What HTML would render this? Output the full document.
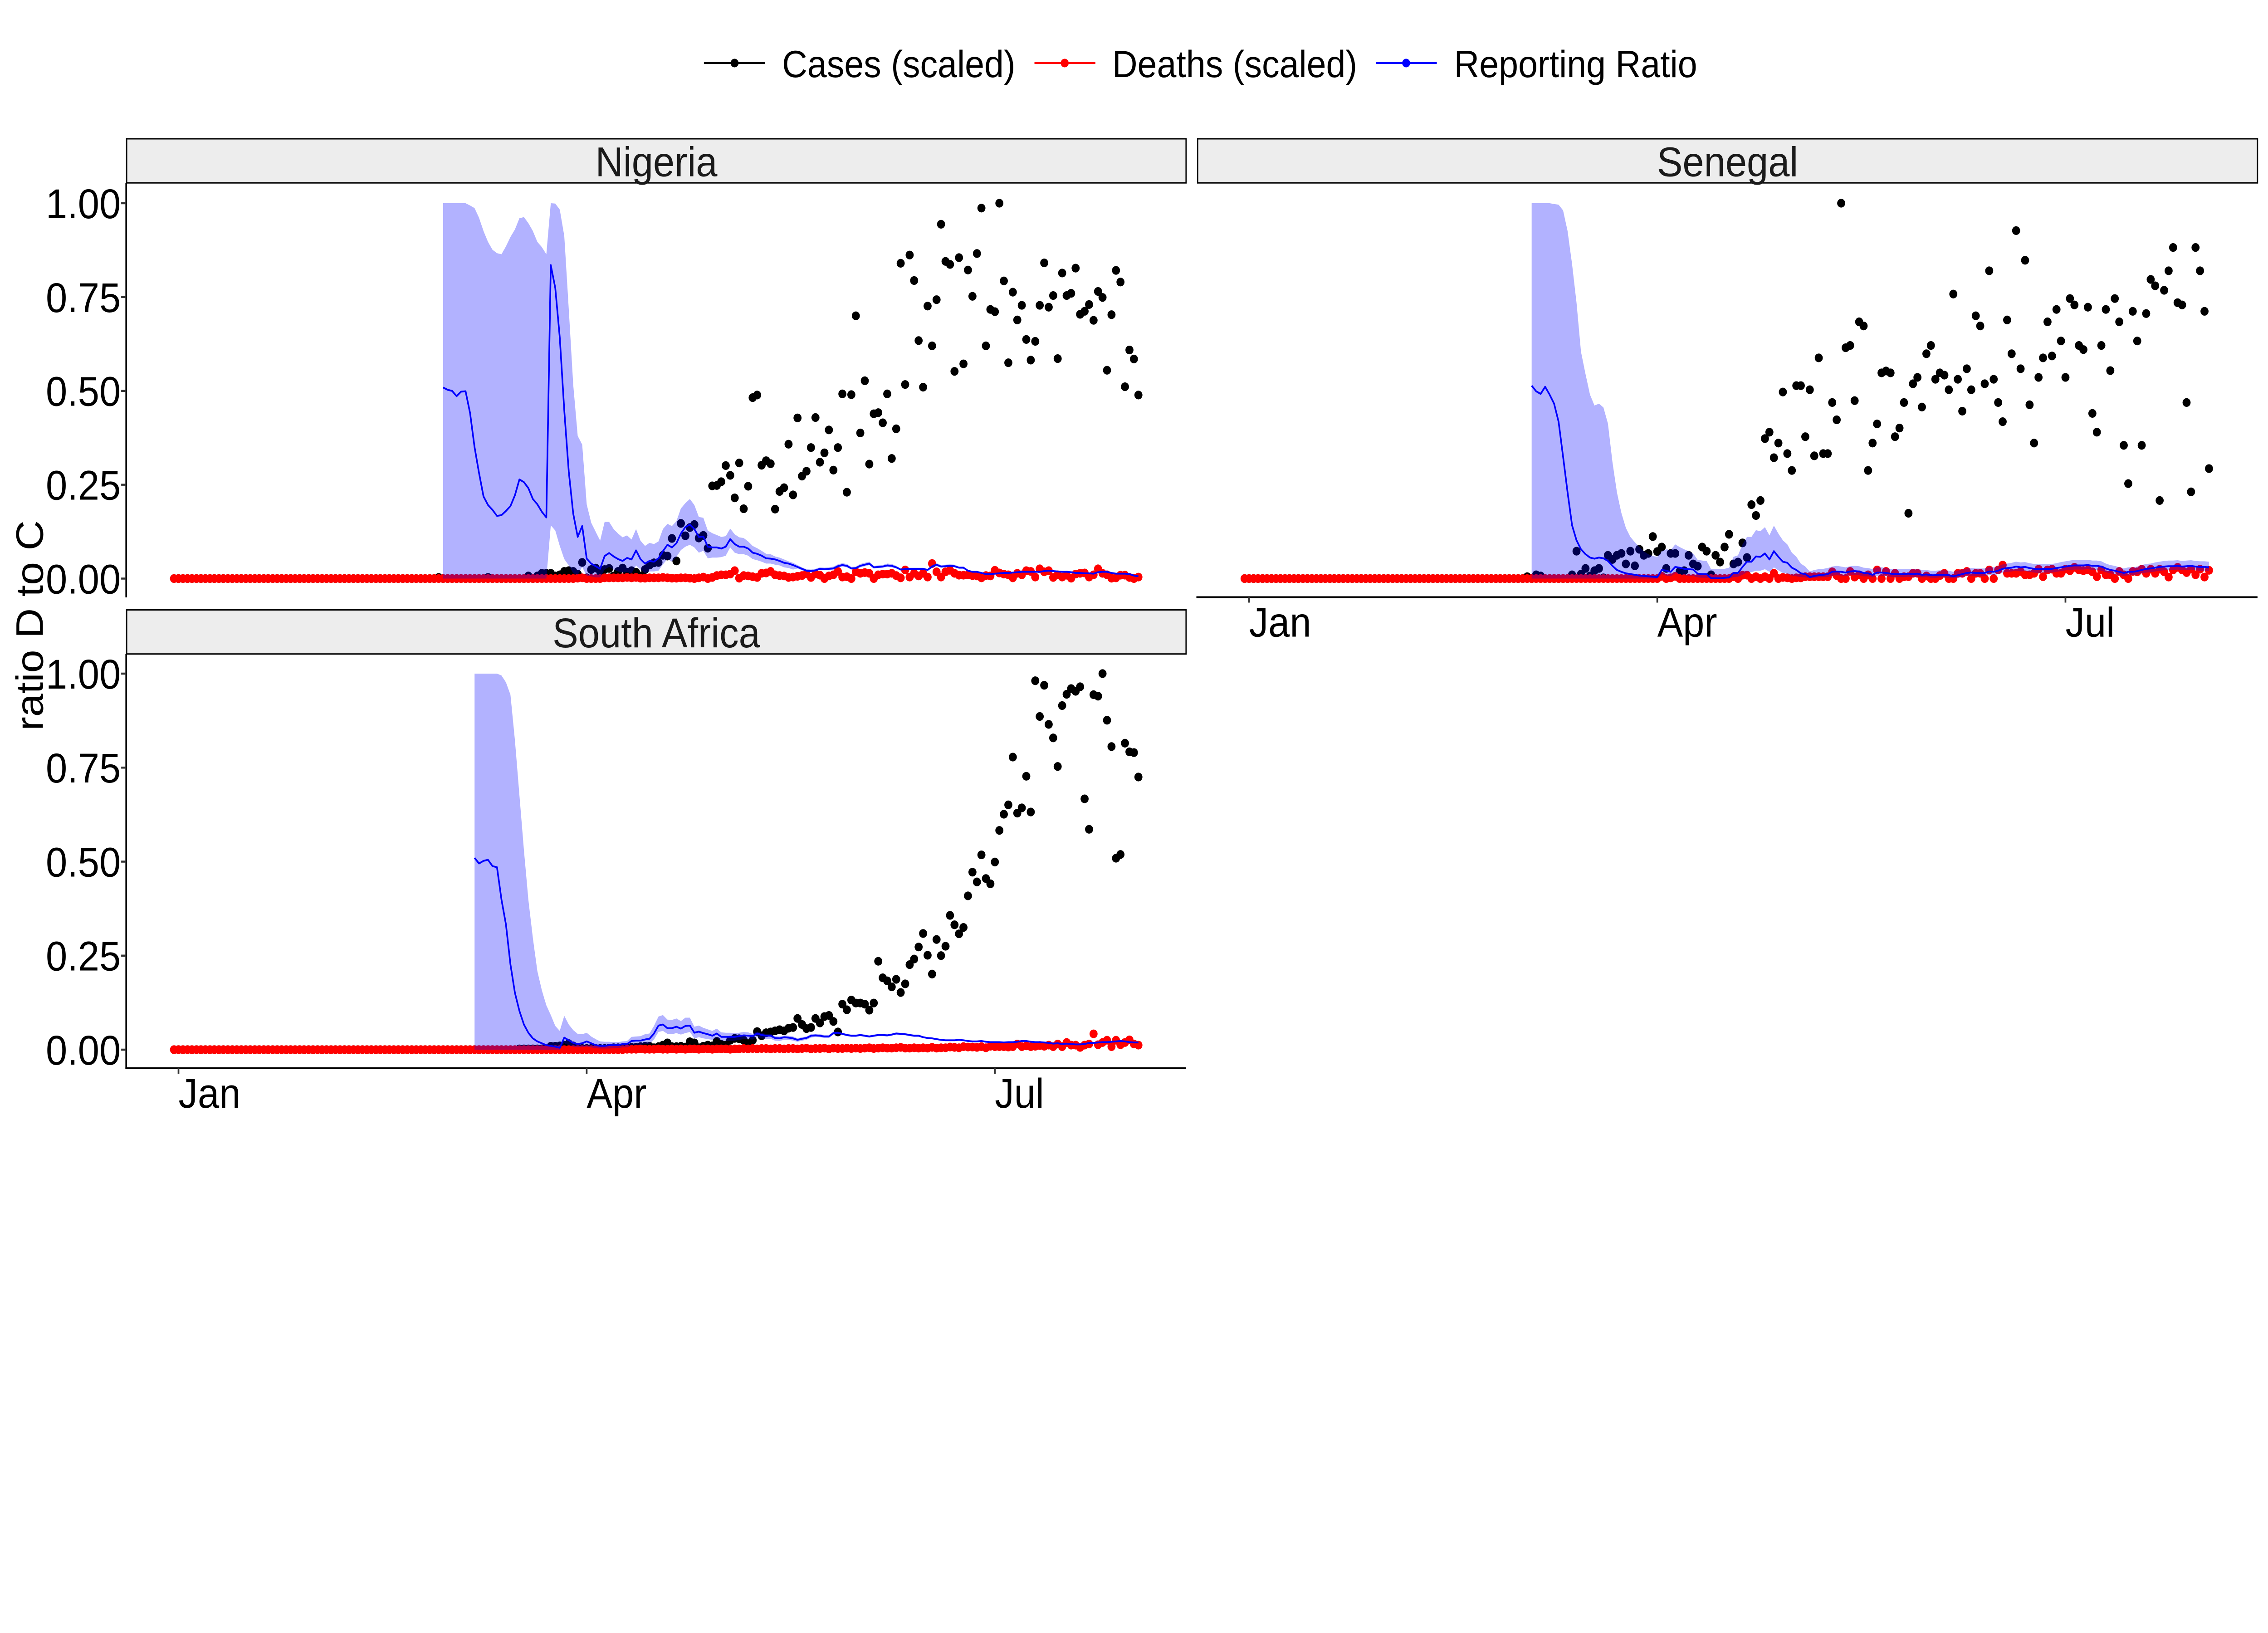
<!DOCTYPE html>
<html lang="en">
<head>
<meta charset="utf-8">
<title>Reporting ratio by country</title>
<style>
html,body{margin:0;padding:0;background:#fff;width:100%;height:100%;overflow:hidden;}
svg{display:block;width:100vw;height:100vh;}
text{font-family:"Liberation Sans",Arial,sans-serif;}
</style>
</head>
<body>
<svg id="chart" xmlns="http://www.w3.org/2000/svg" viewBox="0 0 5400 3600" preserveAspectRatio="none">
<rect x="0" y="0" width="5400" height="3600" fill="#fff"/>
<g>
  <g>
    <line x1="1676" y1="139" x2="1822" y2="139" stroke="#000" stroke-width="4.2"/>
    <circle cx="1749" cy="139" r="9.5" fill="#000"/>
    <text x="1862" y="170" font-size="83.33" fill="#000">Cases (scaled)</text>
  </g>
  <g>
    <line x1="2463" y1="139" x2="2608" y2="139" stroke="#f00" stroke-width="4.2"/>
    <circle cx="2535" cy="139" r="9.5" fill="#f00"/>
    <text x="2648" y="170" font-size="83.33" fill="#000">Deaths (scaled)</text>
  </g>
  <g>
    <line x1="3276" y1="139" x2="3421" y2="139" stroke="#00f" stroke-width="4.2"/>
    <circle cx="3348" cy="139" r="9.5" fill="#00f"/>
    <text x="3462" y="170" font-size="83.33" fill="#000">Reporting Ratio</text>
  </g>
</g>
<text x="0" y="0" transform="translate(102 1379) rotate(-90)" text-anchor="middle" font-size="91.67" fill="#000">ratio D to C</text>
</svg>
<script>
const yTicks = [0, 0.25, 0.5, 0.75, 1];
const yTickLabels = ['0.00', '0.25', '0.50', '0.75', '1.00'];
const xTickDays = [0, 91, 182];
const xTickLabels = ['Jan', 'Apr', 'Jul'];
const firstDay = -1;

const nigeriaCases = [
0,0,0,0,0,0,0,0,0,0,0,0,0,0,0,0,0,0,0,0,0,0,0,0,0,0,0,0,0,0,
0,0,0,0,0,0,0,0,0,0,0,0,0,0,0,0,0,0,0,0,0,0,0,0,0,0,0,0,0,
.003,0,0,0,0,0,0,0,0,0,0,.003,0,0,0,0,0,0,0,0,.007,0,.007,.014,.014,.014,.007,.01,.019,.021,.019,.012,.043,.002,.024,.028,.019,.024,.027,.007,.019,.028,.017,.021,.017,.007,.024,.036,.042,.043,.062,.06,
.107,.047,.147,.114,.136,.144,.108,.115,.081,.247,.248,.258,.301,.275,.215,.308,.186,.246,.482,.489,
.302,.314,.306,.185,.232,.242,.358,.223,.428,.273,.286,.349,.429,.31,.335,.396,.289,.349,.492,.23,
.49,.7,.388,.527,.305,.439,.442,.415,.492,.32,.399,.84,.517,.862,.794,.634,.51,.726,.62,.743,
.944,.845,.837,.552,.855,.572,.822,.752,.866,.987,.62,.717,.711,1,.793,.575,.763,.689,.728,.637,
.582,.632,.728,.841,.723,.754,.586,.814,.754,.76,.827,.704,.712,.73,.688,.765,.749,.555,.703,.821,
.79,.511,.609,.585,.489];
const nigeriaDeaths = [
0,0,0,0,0,0,0,0,0,0,0,0,0,0,0,0,0,0,0,0,0,0,0,0,0,0,0,0,0,0,
0,0,0,0,0,0,0,0,0,0,0,0,0,0,0,0,0,0,0,0,0,0,0,0,0,0,0,0,0,0,
0,0,0,0,0,0,0,0,0,0,0,0,0,0,0,0,0,0,0,0,0,0,0,0,0,0,0,0,0,0,
.001,.002,0,0,0,0,.002,.002,.002,.002,.002,.003,.002,.003,.001,.001,.002,.002,.002,.003,.002,
.001,.001,.002,.002,.001,0,.002,.004,0,.003,.008,.01,.01,.012,.021,.001,.008,.007,.005,.003,
.014,.015,.019,.01,.008,.007,.003,.004,.006,.008,.012,.003,.012,.009,0,.007,.01,.019,.004,.005,
0,.018,.014,.016,.014,0,.01,.012,.012,.014,.008,.002,.023,.004,.014,.007,.014,.004,.04,.018,
.004,.018,.022,.014,.009,.009,.01,.008,.007,.002,.008,.007,.022,.015,.012,.01,.002,.014,.01,.021,
.019,.004,.026,.018,.021,.003,.01,.004,.009,.001,.012,.014,.015,.004,.01,.026,.014,.01,.001,.002,
.009,.009,.003,0,.004];
const nigeriaRatioStart = 59;
const nigeriaRatio = [
.509,.503,.5,.486,.498,.499,.441,.35,.281,.219,.196,.183,.167,.169,.18,.193,.222,.264,.257,.241,
.212,.198,.178,.163,.835,.774,.642,.448,.285,.173,.111,.14,.053,.04,.033,.026,.06,.068,.059,.052,
.047,.055,.051,.075,.052,.04,.047,.045,.054,.073,.09,.083,.094,.12,.137,.144,.132,.111,.112,.085,
.083,.083,.08,.085,.105,.092,.085,.085,.08,.069,.066,.061,.054,.053,.051,.047,.042,.04,.036,
.031,.026,.021,.02,.022,.026,.025,.026,.027,.033,.036,.034,.027,.028,.034,.037,.04,.03,.031,.032,.035,.034,.03,.024,.025,.026,.026,.026,.026,.023,.032,.037,.032,.033,.034,.033,.029,.029,.021,.018,.018,.015,.012,.012,.013,.014,.015,.015,.016,.017,.018,.018,.018,.018,.018,.02,.021,.02,.019,.018,.018,.017,.015,.015,.014,.014,.013,.017,.018,.018,.015,.013,.013,.013,.012,.008,.006];
const nigeriaUpper = [
1,1,1,1,1,1,.994,.987,.961,.926,.897,.876,.867,.864,.885,.91,.93,.96,.963,.947,
.926,.897,.883,.864,1,.999,.983,.913,.718,.517,.38,.357,.198,.149,.125,.101,.151,.151,.132,.12,
.11,.115,.104,.132,.101,.087,.095,.092,.099,.132,.146,.14,.153,.187,.201,.212,.196,.164,.162,.128,
.121,.116,.111,.113,.133,.118,.11,.108,.099,.087,.081,.074,.066,.065,.059,.056,.051,.046,.042,
.036,.03,.025,.024,.026,.03,.029,.03,.032,.038,.041,.039,.031,.032,.039,.042,.045,.034,.035,.036,.04,.039,.034,.027,.028,.029,.029,.029,.029,.026,.036,.041,.036,.037,.038,.037,.032,.032,.023,.02,.02,.017,.014,.014,.015,.016,.017,.017,.018,.019,.02,.02,.02,.02,.02,.022,.023,.022,.021,.02,.02,.019,.017,.017,.016,.016,.015,.019,.02,.02,.017,.015,.015,.015,.014,.009,.007];
const nigeriaLower = [
0,0,0,0,0,0,0,0,0,0,0,0,0,0,0,0,0,0,0,0,0,0,0,0,
.142,.128,.087,.052,.035,.014,.01,.031,.007,.006,.003,.003,.024,.031,.024,.019,.016,.017,.014,.035,.024,.014,.019,.019,.021,.038,.052,.045,.058,.076,.085,.09,.083,.069,.074,.054,.056,.056,.057,.061,.083,.069,.065,.065,.061,.052,.049,.045,.04,.04,.037,.035,.03,.028,.024,
.027,.022,.018,.017,.019,.023,.022,.023,.024,.029,.032,.03,.024,.025,.03,.033,.036,.027,.028,.029,.031,.03,.027,.022,.023,.024,.024,.024,.024,.021,.028,.033,.029,.03,.031,.03,.027,.027,.02,.017,.017,.014,.011,.011,.012,.013,.014,.014,.015,.016,.017,.017,.017,.017,.017,.019,.02,.019,.018,.017,.017,.016,.014,.014,.013,.013,.012,.016,.017,.017,.014,.012,.012,.012,.011,.007,.005];

const senegalCases = [
0,0,0,0,0,0,0,0,0,0,0,0,0,0,0,0,0,0,0,0,0,0,0,0,0,0,0,0,0,0,
0,0,0,0,0,0,0,0,0,0,0,0,0,0,0,0,0,0,0,0,0,0,0,0,0,0,0,0,0,0,0,0,0,
.005,0,.01,.007,0,0,0,0,0,0,.01,.073,.012,.027,.007,.021,.027,.002,
.062,.051,.062,.067,.039,.073,.034,.078,.062,.067,.112,.072,.084,.027,.067,.067,.019,.021,.062,.039,
.033,.084,.073,.01,.062,.044,.084,.118,.039,.044,.095,.056,.197,.168,.208,.373,.39,.322,.361,.497,
.333,.288,.514,.514,.378,.503,.327,.588,.333,.333,.469,.423,1,.615,.621,.474,.684,.673,.288,.361,
.412,.548,.553,.548,.378,.401,.469,.174,.519,.536,.457,.599,.621,.531,.548,.542,.503,.758,.531,.446,
.559,.503,.7,.673,.519,.82,.531,.469,.418,.689,.599,.927,.559,.848,.463,.361,.536,.588,.684,.593,
.717,.633,.536,.746,.729,.621,.61,.723,.44,.39,.621,.717,.554,.746,.684,.355,.253,.712,.633,.355,
.706,.797,.78,.208,.768,.82,.882,.735,.729,.469,.231,.882,.82,.712,.293];
const senegalDeaths = [
0,0,0,0,0,0,0,0,0,0,0,0,0,0,0,0,0,0,0,0,0,0,0,0,0,0,0,0,0,0,
0,0,0,0,0,0,0,0,0,0,0,0,0,0,0,0,0,0,0,0,0,0,0,0,0,0,0,0,0,0,
0,0,0,0,0,0,0,0,0,0,0,0,0,0,0,0,0,0,0,0,0,0,0,0,0,0,0,0,0,0,0,0,0,
.006,0,.002,.006,0,0,0,0,0,0,0,0,0,0,0,0,.005,0,.009,.009,0,.005,0,.005,0,.014,0,.003,.002,0,.002,.002,
.005,.005,.005,.005,.005,.005,
.018,.008,0,0,.019,.004,.01,0,.01,0,.023,0,.019,0,.014,0,.005,.005,.014,.014,
0,.007,0,0,.008,.014,0,0,.014,.014,.019,0,.014,.014,0,.023,0,.023,.036,.014,
.014,.014,.019,.01,.01,.014,.025,.005,.023,.025,.014,.014,.025,.021,.03,.023,.021,.023,.018,.005,
.023,.01,.01,0,.019,.01,0,.019,.018,.025,.014,.025,.014,.025,.018,.004,.023,.03,.023,.016,
.025,.01,.025,.004,.022];
const senegalRatioStart = 63;
const senegalRatio = [
.514,.499,.492,.511,.49,.466,.418,.325,.23,.142,.102,.078,.065,.056,.053,.056,.054,.047,.034,.023,
.018,.014,.012,.01,.008,.007,.006,.005,.004,.023,.021,.018,.031,.029,.026,.025,.024,.013,.012,.012,
.001,.001,.001,.002,.003,.015,.015,.031,.045,.045,.059,.058,.067,.051,.073,.058,.045,.042,.029,.023,.014,.012,
.004,.007,.009,.01,.012,.018,.019,.018,.016,.019,.02,.019,.015,.014,.01,.016,.016,.015,.013,.012,.012,.012,.013,.012,.013,.01,.011,.009,.009,.01,.01,.009,.006,.009,.012,.015,.016,.015,.015,.015,.019,.018,.021,.026,.028,.029,.032,.03,.031,.028,.026,.025,.026,.026,.026,.028,.03,.032,.034,.035,.035,.035,.036,.034,.034,.032,.027,.023,.021,.018,.015,.018,.018,.02,.023,.026,.027,.029,.031,.032,.033,.033,.034,.032,.033,.034,.032,.031,.031,.03];
const senegalUpper = [
1,1,1,1,1,.998,.996,.981,.926,.838,.735,.604,.545,.49,.461,.466,.456,.413,.311,.23,
.175,.135,.111,.097,.084,.073,.065,.06,.058,.073,.078,.076,.091,.084,.078,.073,.067,.05,.048,.047,
.025,.025,.025,.026,.029,.058,.062,.091,.111,.111,.129,.126,.137,.115,.141,.12,.102,.091,.069,.058,.04,.032,
.019,.023,.025,.026,.028,.032,.034,.032,.03,.033,.034,.033,.029,.028,.025,.03,.03,.028,.026,.025,.025,.025,.026,.025,.026,.023,.023,.021,.021,.022,.022,.021,.018,.021,.024,.027,.028,.027,.027,.027,.031,.03,.033,.038,.04,.042,.045,.043,.044,.041,.039,.038,.039,.039,.039,.041,.044,.046,.048,.05,.05,.05,.05,.048,.048,.046,.04,.036,.034,.03,.027,.03,.03,.032,.036,.039,.04,.043,.045,.047,.048,.048,.049,.047,.048,.049,.047,.046,.046,.045];
const senegalLower = [
0,0,0,0,0,0,0,0,0,0,0,0,0,0,0,0,0,0,0,0,0,0,0,0,0,0,0,0,0,
.012,.008,.006,.014,.012,.009,.008,.007,.003,.002,.002,0,0,0,0,0,.004,.005,.01,.017,.017,.021,.021,.025,.018,.03,.022,.015,.013,.008,.006,.004,.003,
.001,.002,.003,.004,.004,
.008,.009,.008,.007,.009,.01,.009,.006,.006,.003,.007,.007,.006,.005,.004,.004,.004,.005,.004,.005,.003,.004,.002,.002,.003,.003,.002,.001,.002,.004,.007,.008,.007,.007,.007,.01,.009,.012,.016,.018,.019,.021,.019,.02,.018,.016,.015,.016,.016,.016,.018,.02,.022,.023,.024,.024,.024,.025,.023,.023,.021,.017,.014,.012,.009,.007,.009,.009,.011,.014,.016,.017,.019,.021,.022,.023,.023,.024,.022,.023,.024,.022,.021,.021,.02];

const southAfricaCases = [
0,0,0,0,0,0,0,0,0,0,0,0,0,0,0,0,0,0,0,0,0,0,0,0,0,0,0,0,0,0,
0,0,0,0,0,0,0,0,0,0,0,0,0,0,0,0,0,0,0,0,0,0,0,0,0,0,0,0,0,0,
0,0,0,0,0,0,0,0,0,0,0,0,0,0,0,0,0,
.002,.002,.002,.002,.002,.002,.002,.009,.009,.01,.012,.016,.01,.004,.003,.003,.003,.003,.003,.003,
.004,.005,.005,.005,.005,.006,.006,.008,.009,.009,.005,.008,.012,.018,.008,.008,.009,.007,.021,.018,
.005,.009,.012,.01,.022,.014,.012,.025,.03,.029,.025,.016,.025,.048,.037,.045,.047,.05,.053,.05,
.057,.059,.083,.067,.056,.059,.083,.071,.088,.091,.075,.047,.121,.106,.132,.124,.124,.121,.105,.124,
.235,.191,.183,.167,.187,.152,.175,.226,.241,.273,.309,.251,.201,.293,.25,.275,.357,.332,.308,.325,
.409,.472,.446,.518,.455,.441,.499,.583,.626,.651,.778,.629,.643,.727,.632,.981,.886,.969,.865,.829,
.753,.915,.945,.96,.953,.965,.667,.586,.944,.94,1,.876,.806,.509,.519,.815,.792,.79,.725];
const southAfricaDeaths = [
0,0,0,0,0,0,0,0,0,0,0,0,0,0,0,0,0,0,0,0,0,0,0,0,0,0,0,0,0,0,
0,0,0,0,0,0,0,0,0,0,0,0,0,0,0,0,0,0,0,0,0,0,0,0,0,0,0,0,0,0,
0,0,0,0,0,0,0,0,0,0,0,0,0,0,0,0,0,0,0,0,0,0,0,0,0,0,0,0,0,0,
0,0,0,0,0,0,0,0,0,0,0,
.001,.001,.001,.002,.001,.001,.001,.002,.001,.001,.002,.001,.002,.001,.002,.002,.001,.002,.002,.001,.002,.002,.002,.001,.002,.002,
.003,.002,.003,.002,.003,.003,.002,.003,.003,.002,.003,.003,.002,.003,.004,.002,.003,.003,.004,.002,.004,.003,.003,.004,.003,
.004,.003,.004,.005,.003,.004,.005,.004,.004,.005,.006,.004,.004,.005,.004,.005,.004,.006,.004,.005,
.005,.007,.006,.005,.008,.007,.007,.006,.008,.005,.009,.008,.008,.008,.007,.008,
.015,.008,.01,.008,.009,.011,.009,.012,.008,.015,.008,.019,.012,.012,.006,.012,
.015,.042,.013,.019,.025,.008,.025,.013,.019,.026,.015,.012];
const southAfricaRatioStart = 66;
const southAfricaRatio = [
.51,.495,.502,.505,.488,.485,.399,.333,.227,.151,.103,.067,.045,.03,.022,.017,.012,.01,.008,.005,
.032,.025,.018,.015,.017,.022,.017,.012,.01,.01,.012,.012,.012,.015,.015,.023,.024,.024,.027,.029,
.043,.064,.067,.057,.057,.061,.056,.063,.064,.045,.048,.044,.041,.037,.043,.034,.034,.034,.034,.036,
.038,.037,.036,.043,.039,.037,.037,.031,.03,.033,.032,.03,.026,.029,.031,.037,.038,.037,.035,.035,.044,
.045,.042,.039,.037,.037,.039,.037,.035,.037,.039,.039,.038,.04,.043,.042,.041,.039,.037,.037,.033,.031,.03,.028,.026,.025,.025,.025,.026,.025,.023,.022,.022,.023,.021,.02,.02,.02,.019,.02,.02,.021,.023,.023,.021,.02,.02,.019,.018,.016,.017,.015,.016,.015,.014,.014,.015,.018,.018,.019,.02,.02,.021,.022,.023,.022,.02,.019,.019];
const southAfricaUpper = [
1,1,1,1,1,1,.995,.977,.944,.823,.677,.531,.399,.297,.209,.158,.118,.092,.063,.05,
.09,.067,.052,.042,.041,.045,.035,.028,.022,.021,.021,.02,.02,.022,.023,.034,.035,.036,.041,.043,
.063,.088,.092,.08,.079,.083,.076,.085,.085,.061,.064,.058,.054,.05,.056,.046,.045,.045,.044,.045,
.047,.046,.042,.048,.044,.042,.042,.036,.035,.038,.037,.035,.03,.033,.035,.041,.042,.041,.039,.039,.048,
.048,.045,.042,.04,.04,.042,.04,.038,.04,.042,.042,.041,.043,.046,.045,.044,.042,.04,.04,.036,.033,.032,.03,.028,.027,.027,.027,.028,.027,.025,.024,.024,.025,.023,.022,.022,.022,.021,.022,.022,.023,.025,.025,.023,.022,.022,.021,.02,.018,.019,.017,.018,.017,.016,.016,.017,.02,.02,.021,.022,.022,.023,.024,.025,.024,.022,.021,.021];
const southAfricaLower = [
0,0,0,0,0,0,0,0,0,0,0,0,0,0,0,0,0,0,0,0,
.017,.012,.008,.006,.007,.008,.006,.004,.003,.003,.003,.004,.004,.006,.006,.012,.013,.013,.015,.016,
.027,.047,.05,.042,.041,.044,.04,.044,.047,.03,.033,.03,.028,.026,.031,.024,.024,.024,.024,.026,
.028,.028,.027,.033,.03,.029,.029,.024,.023,.026,.026,.024,.021,.024,.026,.032,.034,.033,.031,.031,.04,
.042,.039,.036,.034,.034,.036,.034,.032,.034,.036,.036,.035,.037,.04,.039,.038,.036,.034,.034,.031,.029,.028,.026,.024,.023,.023,.023,.024,.023,.021,.02,.02,.021,.019,.018,.018,.018,.017,.018,.018,.019,.021,.021,.019,.018,.018,.017,.016,.014,.015,.013,.014,.013,.012,.012,.013,.016,.016,.017,.018,.018,.019,.02,.021,.02,.018,.017,.017];

const SVG_NS = 'http://www.w3.org/2000/svg';
const chart = document.getElementById('chart');
const PX_PER_DAY = 10.68;

function el(tag, parent, attrs) {
  const node = document.createElementNS(SVG_NS, tag);
  for (const key in attrs) node.setAttribute(key, attrs[key]);
  parent.appendChild(node);
  return node;
}

function drawPanel(p) {
  const xScale = d => p.jan + d * PX_PER_DAY;
  const yScale = v => p.zeroY - v * (p.zeroY - p.oneY);

  const g = el('g', chart, {});
  
  

  const strip = el('rect', g, {x: p.left, y: p.stripTop, width: p.right - p.left, height: p.stripBottom - p.stripTop, fill: '#ededed', stroke: '#000', 'stroke-width': 3});
  
  

  const title = el('text', g, {x: (p.left + p.right) / 2, y: p.stripBottom - 14.5, 'text-anchor': 'middle', 'font-size': 91.67, fill: '#1a1a1a'});
  title.textContent = p.title;
  
  

  p.cases.forEach((v, i) => {
    const c = el('circle', g, {cx: xScale(firstDay + i), cy: yScale(v), r: 9.6, fill: '#000'});
    
    
  });
  p.deaths.forEach((v, i) => {
    const c = el('circle', g, {cx: xScale(firstDay + i), cy: yScale(v), r: 9.6, fill: '#f00'});
    
    
  });

  const top = p.upper.map((v, i) => xScale(p.start + i).toFixed(1) + ',' + yScale(v).toFixed(1));
  const bottom = p.lower.map((v, i) => xScale(p.start + i).toFixed(1) + ',' + yScale(v).toFixed(1)).reverse();
  const band = el('polygon', g, {points: top.concat(bottom).join(' '), fill: '#00f', 'fill-opacity': 0.3});
  
  

  const linePts = p.ratio.map((v, i) => xScale(p.start + i).toFixed(1) + ',' + yScale(v).toFixed(1)).join(' ');
  const line = el('polyline', g, {points: linePts, fill: 'none', stroke: '#00f', 'stroke-width': 3.9, 'stroke-linejoin': 'round'});
  
  

  if (p.yAxis) {
    const axis = el('line', g, {x1: p.left - 1, y1: p.stripBottom, x2: p.left - 1, y2: p.bottomY + 2, stroke: '#000', 'stroke-width': 4});
    
    
    yTicks.forEach((v, i) => {
      const t = el('line', g, {x1: p.left - 13, y1: yScale(v), x2: p.left - 1, y2: yScale(v), stroke: '#333', 'stroke-width': 4.5});
      
      
      const lab = el('text', g, {x: p.left - 14, y: yScale(v) + 33, 'text-anchor': 'end', 'font-size': 91.67, fill: '#000'});
      lab.textContent = yTickLabels[i];
      
      
    });
  }
  if (p.xAxis) {
    const axis = el('line', g, {x1: p.left - 3, y1: p.bottomY, x2: p.right, y2: p.bottomY, stroke: '#000', 'stroke-width': 4});
    
    
    xTickDays.forEach((d, i) => {
      const t = el('line', g, {x1: xScale(d), y1: p.bottomY, x2: xScale(d), y2: p.bottomY + 12, stroke: '#333', 'stroke-width': 4});
      
      
      const lab = el('text', g, {x: xScale(d), y: p.bottomY + 87, 'font-size': 91.67, fill: '#000'});
      lab.textContent = xTickLabels[i];
      
      
    });
  }
}

drawPanel({title: 'Nigeria', slug: 'nigeria', left: 301.5, right: 2824, stripTop: 306, stripBottom: 403.2, oneY: 448, zeroY: 1275.5, bottomY: 1315, jan: 425, yAxis: true, xAxis: false,
  cases: nigeriaCases, deaths: nigeriaDeaths, start: nigeriaRatioStart, ratio: nigeriaRatio, upper: nigeriaUpper, lower: nigeriaLower});
drawPanel({title: 'Senegal', slug: 'senegal', left: 2851.5, right: 5375, stripTop: 306, stripBottom: 403.2, oneY: 448, zeroY: 1275.5, bottomY: 1316.5, jan: 2974, yAxis: false, xAxis: true,
  cases: senegalCases, deaths: senegalDeaths, start: senegalRatioStart, ratio: senegalRatio, upper: senegalUpper, lower: senegalLower});
drawPanel({title: 'South Africa', slug: 'south-africa', left: 301.5, right: 2824, stripTop: 1344.5, stripBottom: 1441.7, oneY: 1485, zeroY: 2314, bottomY: 2355, jan: 425, yAxis: true, xAxis: true,
  cases: southAfricaCases, deaths: southAfricaDeaths, start: southAfricaRatioStart, ratio: southAfricaRatio, upper: southAfricaUpper, lower: southAfricaLower});
</script>
</body>
</html>
